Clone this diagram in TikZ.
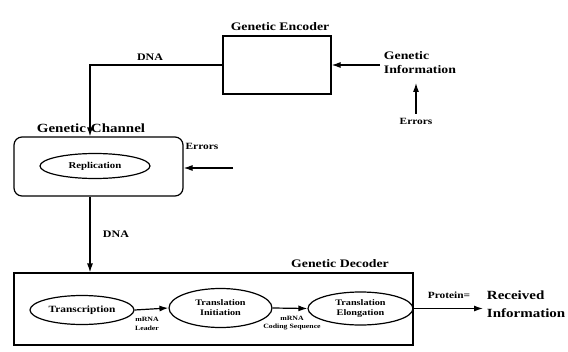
\documentclass[tikz,border=0pt]{standalone}
\usepackage{fontspec}
\setmainfont{Liberation Serif}[FakeStretch=1.2]
\usetikzlibrary{arrows.meta,shapes.geometric,calc}

\begin{document}
\begin{tikzpicture}[x=1pt,y=-1pt,>={Latex[length=9pt,width=6pt]},line width=1.2pt,
  blk/.style={draw,inner sep=0pt},
  stage/.style={draw,ellipse,inner sep=0pt,align=center,font=\fontsize{8.5}{10}\selectfont\bfseries},
  ttl/.style={font=\fontsize{11.5}{14}\selectfont\bfseries},
  lbl/.style={font=\fontsize{10}{11}\selectfont\bfseries},
  errs/.style={font=\fontsize{9.5}{10}\selectfont\bfseries},
  tiny/.style={font=\fontsize{6.5}{8.5}\selectfont\bfseries,align=center}]
 \useasboundingbox (0,0) rectangle (568,351);
 % ---- encoder
 \node[blk,minimum width=108pt,minimum height=58pt] (enc) at (277,65) {};
 \node[ttl] (encT) at (280,27) {Genetic Encoder};
 \node[ttl,align=left,anchor=west] (info) at (380,63) {Genetic\\Information};
 \node[errs] (err1) at (416,121) {Errors};
 \draw[->] (info.west |- enc.east) -- (enc.east);
 \draw[->,shorten >=5pt] (err1.north) -- (err1.north |- info.south);
 % ---- channel
 \node[blk,rounded corners=8pt,minimum width=169pt,minimum height=59pt] (chan) at (98.5,166.5) {};
 \node[ttl,font=\fontsize{12.5}{14}\selectfont\bfseries] (chanT) at (91,128) {Genetic\hspace{5pt}Channel};
 \node[stage,minimum width=110pt,minimum height=25pt,font=\fontsize{9}{10}\selectfont\bfseries] (rep) at (95,166) {Replication};
 \node[errs] (err2) at (202,146) {Errors};
 \coordinate (errIn) at (233,168);
 \draw[->] (errIn) -- (chan.east |- errIn);
 % ---- DNA links
 \coordinate (dnaX) at (90,0);
 \draw[->] (enc.west) -| (chan.north -| dnaX);
 \node[lbl] (dna1) at (150,57) {DNA};
 % ---- decoder
 \node[blk,minimum width=399pt,minimum height=72pt] (dec) at (213.5,309) {};
 \node[ttl] (decT) at (340,264) {Genetic Decoder};
 \draw[->] (chan.south -| dnaX) -- node[lbl,anchor=west,xshift=9pt] (dna2) {DNA} (dec.north -| dnaX);
 \node[stage,minimum width=104pt,minimum height=29pt,font=\fontsize{9.5}{11}\selectfont\bfseries] (tsc) at (82,310) {Transcription};
 \node[stage,minimum width=103pt,minimum height=39pt] (tin) at (220.5,308) {Translation\\Initiation};
 \node[stage,minimum width=105pt,minimum height=33pt] (tel) at (360.5,308.5) {Translation\\Elongation};
 \draw[->] (tsc.east) -- (tin.west);
 \draw[->] (tin.east) -- (tel.west);
 \node[tiny] (lead) at (147,324) {mRNA\\Leader};
 \node[tiny] (code) at (292,323) {mRNA\\Coding Sequence};
 % ---- output
 \coordinate (outP) at (483,308.5);
 \draw[->] (tel.east) -- (outP);
 \node[font=\fontsize{9.5}{11}\selectfont\bfseries] (prot) at (449,295) {Protein=};
 \node[ttl,font=\fontsize{12.5}{18}\selectfont\bfseries,align=left,anchor=west] (recv) at (483,304) {Received\\Information};
\end{tikzpicture}
\end{document}
